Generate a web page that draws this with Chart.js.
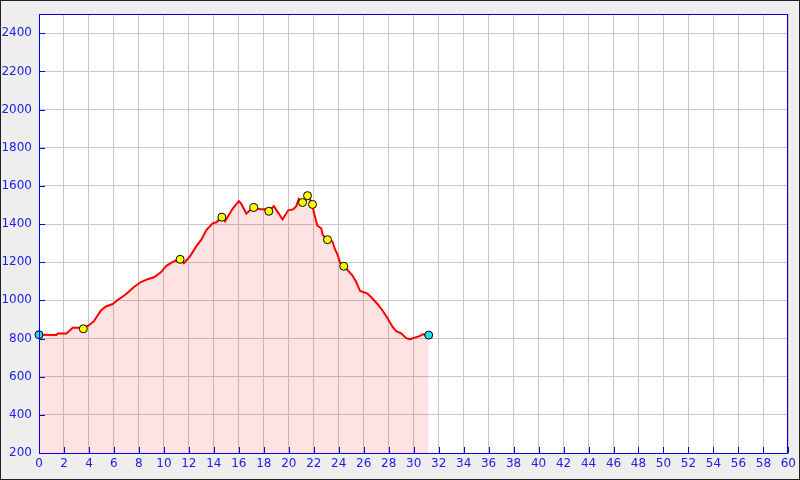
<!DOCTYPE html>
<html>
<head>
<meta charset="utf-8">
<script src="https://cdn.jsdelivr.net/npm/chart.js@4"></script>
<style>
    html, body { margin: 0; padding: 0; background: #eeeeee; }
    #profileChart { display: block; }
</style>
</head>
<body>
<canvas id="profileChart" width="800" height="480"></canvas>
<script>
// Elevation profile (distance in km, elevation in m)
const distKm = [
    0, 1.4, 1.5, 2.2, 2.7, 3.2, 3.55, 4.0, 4.4, 4.96,
    5.36, 5.9, 6.3, 6.96, 7.6, 8.16, 8.7, 9.2, 9.76, 10.2,
    10.6, 11.0, 11.3, 11.6, 12.1, 12.6, 13.0, 13.4, 13.9, 14.2,
    14.64, 14.9, 15.1, 15.5, 16.0, 16.2, 16.6, 16.9, 17.2, 17.7,
    18.1, 18.4, 18.8, 19.2, 19.5, 19.95, 20.35, 20.6, 20.8, 20.96,
    21.1, 21.4, 21.5, 21.7, 21.9, 22.0, 22.2, 22.3, 22.6, 22.7,
    22.9, 23.1, 23.5, 23.7, 23.9, 24.1, 24.4, 24.7, 25.1, 25.4,
    25.7, 25.9, 26.3, 26.7, 27.1, 27.5, 27.9, 28.3, 28.6, 29.0,
    29.4, 29.7, 30.1, 30.5, 30.7, 31.2
];
const elevM = [
    820, 819, 826, 826, 856, 856, 851, 870, 891, 947,
    968, 981, 1002, 1032, 1070, 1096, 1111, 1121, 1147, 1181,
    1198, 1210, 1215, 1195, 1232, 1284, 1318, 1369, 1404, 1409,
    1436, 1415, 1437, 1480, 1521, 1506, 1455, 1472, 1487, 1477,
    1477, 1467, 1494, 1455, 1424, 1472, 1477, 1494, 1532, 1520,
    1513, 1528, 1545, 1528, 1503, 1463, 1412, 1391, 1378, 1347,
    1327, 1318, 1309, 1267, 1241, 1198, 1179, 1159, 1130, 1096,
    1050, 1045, 1036, 1010, 981, 947, 908, 862, 839, 827,
    802, 797, 805, 814, 822, 818
];

// Waypoints (yellow) and start / end (cyan)
const wayKm = [3.55, 11.3, 14.64, 17.2, 18.4, 21.1, 21.5, 21.9, 23.1, 24.4];
const wayElev = [851, 1215, 1436, 1487, 1467, 1513, 1549, 1503, 1318, 1179];
const endKm = [0, 31.2];
const endElev = [820, 818];

// Axis ranges
const xMin = 0, xMax = 60, xStep = 2;
const yMin = 200, yMax = 2500, yStep = 200;

const axisBlue = '#0000ee';
const labelBlue = '#2020e0';
const gridGrey = '#c8c8c8';

function toPoints(xs, ys) {
    return xs.map((x, i) => ({ x: x, y: ys[i] }));
}

// Background, plot frame and inside tick marks
const framePlugin = {
    id: 'frame',
    beforeDraw(chart) {
        const { ctx, chartArea: a } = chart;
        ctx.save();
        ctx.fillStyle = '#eeeeee';
        ctx.fillRect(0, 0, chart.width, chart.height);
        ctx.strokeStyle = '#222222';
        ctx.lineWidth = 1;
        ctx.strokeRect(0.5, 0.5, chart.width - 1, chart.height - 1);
        ctx.fillStyle = '#ffffff';
        ctx.fillRect(a.left, a.top, a.right - a.left, a.bottom - a.top);
        ctx.restore();
    },
    afterDatasetsDraw(chart) {
        const { ctx, chartArea: a, scales } = chart;
        ctx.save();
        ctx.strokeStyle = axisBlue;
        ctx.lineWidth = 1;
        ctx.beginPath();
        scales.x.ticks.forEach(t => {
            const px = Math.round(scales.x.getPixelForValue(t.value)) + 0.5;
            ctx.moveTo(px, a.bottom);
            ctx.lineTo(px, a.bottom - 6);
        });
        scales.y.ticks.forEach(t => {
            const py = Math.round(scales.y.getPixelForValue(t.value)) + 0.5;
            ctx.moveTo(a.left, py);
            ctx.lineTo(a.left + 6, py);
        });
        ctx.stroke();
        ctx.strokeRect(Math.round(a.left) + 0.5, Math.round(a.top) + 0.5,
            Math.round(a.right - a.left) - 1, Math.round(a.bottom - a.top));
        ctx.restore();
    }
};

function initProfileChart() {
    const ctx = document.getElementById('profileChart');
    if (!ctx) return;

    new Chart(ctx.getContext('2d'), {
        type: 'line',
        data: {
            datasets: [{
                type: 'scatter',
                data: toPoints(endKm, endElev),
                backgroundColor: '#20e0f0',
                borderColor: '#000000',
                borderWidth: 1,
                pointRadius: 4,
                clip: false,
                order: 0
            }, {
                type: 'scatter',
                data: toPoints(wayKm, wayElev),
                backgroundColor: '#ffff00',
                borderColor: '#000000',
                borderWidth: 1,
                pointRadius: 4,
                clip: false,
                order: 1
            }, {
                data: toPoints(distKm, elevM),
                borderColor: '#ff0000',
                borderWidth: 2,
                backgroundColor: 'rgba(255, 0, 0, 0.11)',
                fill: 'start',
                pointRadius: 0,
                tension: 0,
                order: 2
            }]
        },
        options: {
            responsive: false,
            animation: false,
            layout: {
                padding: { left: 0, right: 10, top: 10, bottom: 0 }
            },
            plugins: {
                legend: { display: false },
                tooltip: { enabled: false }
            },
            scales: {
                x: {
                    type: 'linear',
                    min: xMin,
                    max: xMax,
                    afterFit: s => { s.height = 27; },
                    grid: { color: gridGrey, drawTicks: false },
                    border: { display: false },
                    ticks: {
                        stepSize: xStep,
                        color: labelBlue,
                        padding: 4,
                        maxRotation: 0,
                        autoSkip: false,
                        font: { family: 'DejaVu Sans', size: 12 }
                    }
                },
                y: {
                    min: yMin,
                    max: yMax,
                    afterFit: s => { s.width = 39; },
                    afterBuildTicks: s => {
                        s.ticks = s.ticks.filter(t => t.value % yStep === 0);
                    },
                    grid: { color: gridGrey, drawTicks: false },
                    border: { display: false },
                    ticks: {
                        stepSize: yStep,
                        color: labelBlue,
                        padding: 7,
                        callback: v => String(v),
                        font: { family: 'DejaVu Sans', size: 12 }
                    }
                }
            }
        },
        plugins: [framePlugin]
    });
}

document.addEventListener('DOMContentLoaded', initProfileChart);
</script>
</body>
</html>
